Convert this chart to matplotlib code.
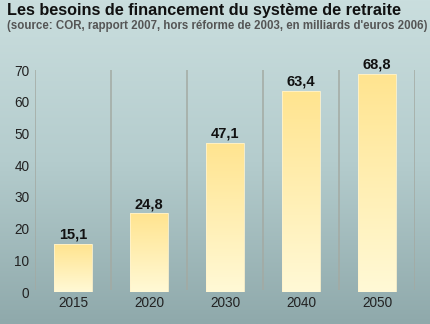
import numpy as np
import matplotlib
matplotlib.use("Agg")
import matplotlib.pyplot as plt
from matplotlib.colors import LinearSegmentedColormap

plt.rcParams['font.family'] = ['Liberation Sans', 'DejaVu Sans']

years = ["2015", "2020", "2030", "2040", "2050"]
values = [15.1, 24.8, 47.1, 63.4, 68.8]
value_labels = ["15,1", "24,8", "47,1", "63,4", "68,8"]
yticks = [0, 10, 20, 30, 40, 50, 60, 70]

title = "Les besoins de financement du système de retraite"
subtitle = "(source: COR, rapport 2007, hors réforme de 2003, en milliards d'euros 2006)"

W, H = 430, 324
fig = plt.figure(figsize=(W / 100, H / 100), dpi=100)

# background gradient
bg = fig.add_axes([0, 0, 1, 1], zorder=0)
bg_cmap = LinearSegmentedColormap.from_list("bg", ["#cadede", "#b4cccd", "#8fa9ab"])
grad = np.linspace(0, 1, 256).reshape(-1, 1)
bg.imshow(grad, aspect="auto", cmap=bg_cmap, extent=[0, 1, 0, 1], origin="upper")
bg.set_axis_off()

ax = fig.add_axes([35 / W, (H - 292) / H, 380 / W, 222 / H], zorder=1)
ax.patch.set_alpha(0)
x = np.arange(len(years))
ax.set_xlim(-0.5, len(years) - 0.5)
ax.set_ylim(0, 70)

# separators
for s in np.arange(-0.5, len(years), 1.0):
    ax.plot([s, s], [0.5, 70], color="#a3aaa3", lw=1.1, zorder=1, solid_capstyle="butt")

bars = ax.bar(x, values, width=0.5, color="none", edgecolor="#fff3cc", lw=0.6, zorder=3)
bar_cmap = LinearSegmentedColormap.from_list("bar", ["#ffe48f", "#fff9d6"])
for b in bars:
    bx, by = b.get_x(), b.get_y()
    bw, bh = b.get_width(), b.get_height()
    im = ax.imshow(grad, aspect="auto", cmap=bar_cmap, extent=[bx, bx + bw, by, by + bh],
                   origin="upper", zorder=2)
    im.set_clip_path(b)

for xi, v, lab in zip(x, values, value_labels):
    ax.text(xi, v + 0.7, lab, ha="center", va="bottom", fontsize=10.5, fontweight="bold", color="#111111")

ax.set_xticks(x)
ax.set_xticklabels(years, fontsize=9.8, color="#222222")
ax.set_yticks(yticks)
ax.set_yticklabels([str(t) for t in yticks], fontsize=9.8, color="#222222")
ax.tick_params(length=0, pad=4)
ax.tick_params(axis="x", pad=3)
for sp in ax.spines.values():
    sp.set_visible(False)
ax.set_aspect("auto")

fig.text(7 / W, 1 - 3 / H, title, ha="left", va="top", fontsize=11.7, fontweight="bold", color="#111111")
fig.text(7 / W, 1 - 20 / H, subtitle, ha="left", va="top", fontsize=8.3, fontweight="bold", color="#555555")

fig.savefig("out.png", dpi=100)
